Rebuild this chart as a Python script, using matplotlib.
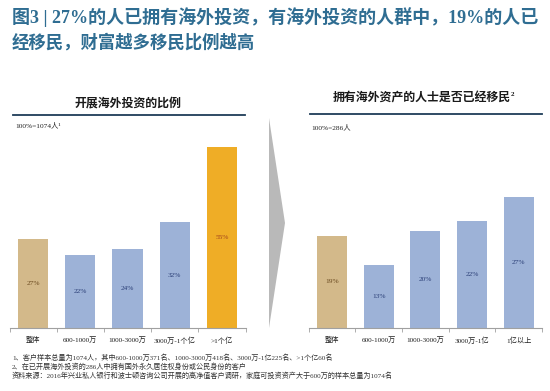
import matplotlib
matplotlib.use("Agg")
import matplotlib.pyplot as plt
from matplotlib.patches import Polygon
from matplotlib.lines import Line2D

# ---- data ----
left_categories = ["整体", "600-1000万", "1000-3000万", "3000万-1个亿", ">1个亿"]
left_values = [27, 22, 24, 32, 55]
right_categories = ["整体", "600-1000万", "1000-3000万", "3000万-1亿", "1亿以上"]
right_values = [19, 13, 20, 22, 27]

title_lines = ["图3 | 27%的人已拥有海外投资，有海外投资的人群中，19%的人已",
               "经移民，财富越多移民比例越高"]
left_title = "开展海外投资的比例"
right_title = "拥有海外资产的人士是否已经移民"
right_title_sup = "2"
left_note = "100%=1074人¹"
right_note = "100%=286人"
footnotes = [
    "1、客户样本总量为1074人，其中600-1000万371名、1000-3000万418名、3000万-1亿225名、>1个亿60名",
    "2、在已开展海外投资的286人中拥有国外永久居住权身份或公民身份的客户",
    "资料来源：2016年兴业私人银行和波士顿咨询公司开展的高净值客户调研，家庭可投资资产大于600万的样本总量为1074名",
]

TAN = "#D3B98A"
BLUE = "#9DB2D7"
ORANGE = "#EFAD26"
SERIF = ["Liberation Serif", "Noto Sans CJK SC"]
CJK = ["Noto Sans CJK SC", "DejaVu Sans"]

W, H = 550, 391
fig = plt.figure(figsize=(5.5, 3.91), dpi=100)
fig.patch.set_facecolor("white")


def fx(x):
    return x / W


def fy(y):
    return 1 - y / H


def make_axes(x0, x1, ybase, ytop):
    return fig.add_axes([fx(x0), fy(ybase), fx(x1) - fx(x0), (ybase - ytop) / H])


def draw_panel(ax, cats, vals, colors, lblcolors, ymax):
    x = list(range(len(cats)))
    ax.bar(x, vals, width=0.64, color=colors, edgecolor="none")
    for xi, v, lc in zip(x, vals, lblcolors):
        ax.text(xi, v / 2, f"{v}%", ha="center", va="center",
                fontsize=5.3, color=lc, family=SERIF)
    ax.set_xlim(-0.5, len(cats) - 0.5)
    ax.set_ylim(0, ymax)
    for s in ["top", "left", "right"]:
        ax.spines[s].set_visible(False)
    ax.spines["bottom"].set_color("#A0A0A0")
    ax.spines["bottom"].set_linewidth(0.8)
    ax.set_yticks([])
    ax.set_xticks(x)
    ax.set_xticklabels(cats, fontsize=5.2, family=SERIF, color="#222222")
    ax.tick_params(axis="x", which="major", length=0, pad=6)
    ax.set_xticks([i - 0.5 for i in range(len(cats) + 1)], minor=True)
    ax.tick_params(axis="x", which="minor", length=3, color="#A0A0A0", width=0.6)
    ax.patch.set_alpha(0)


# left panel
axL = make_axes(9.5, 245.5, 328, 138)
draw_panel(axL, left_categories, left_values,
           [TAN, BLUE, BLUE, BLUE, ORANGE],
           ["#6A4A20", "#2B3F77", "#2B3F77", "#2B3F77", "#A4471E"],
           190 / 3.3)

# right panel
axR = make_axes(308.6, 542, 328, 138)
draw_panel(axR, right_categories, right_values,
           [TAN, BLUE, BLUE, BLUE, BLUE],
           ["#6A4A20", "#2B3F77", "#2B3F77", "#2B3F77", "#2B3F77"],
           190 / 4.85)

# arrow chevron
fig.patches.append(Polygon([(fx(269), fy(118)), (fx(285), fy(223)), (fx(269), fy(328))],
                           closed=True, transform=fig.transFigure,
                           facecolor="#B9B9B9", edgecolor="none"))

# panel titles and rules
fig.text(fx(422), fy(98), right_title, ha="center", va="center",
         fontsize=8.6, fontweight="bold", family=CJK, color="#1a1a1a")
fig.text(fx(128), fy(103), left_title, ha="center", va="center",
         fontsize=8.6, fontweight="bold", family=CJK, color="#1a1a1a")
fig.text(fx(510.5), fy(95), right_title_sup, ha="left", va="center",
         fontsize=5, fontweight="bold", family=SERIF, color="#1a1a1a")
fig.lines.append(Line2D([fx(13), fx(245)], [fy(115), fy(115)], transform=fig.transFigure,
                        color="#1F3D58", linewidth=1.3))
fig.lines.append(Line2D([fx(310), fx(542)], [fy(114), fy(114)], transform=fig.transFigure,
                        color="#1F3D58", linewidth=1.3))
fig.text(fx(15), fy(125), left_note, ha="left", va="center",
         fontsize=5.3, family=SERIF, color="#222222")
fig.text(fx(311), fy(127), right_note, ha="left", va="center",
         fontsize=5.3, family=SERIF, color="#222222")

# main title
fig.text(fx(12), fy(17), title_lines[0], ha="left", va="center",
         fontsize=13.0, fontweight="bold", family=SERIF, color="#2F6D92")
fig.text(fx(12), fy(43), title_lines[1], ha="left", va="center",
         fontsize=12.5, fontweight="bold", family=SERIF, color="#2F6D92")

# footnotes
for i, t in enumerate(footnotes):
    fig.text(fx(12), fy(357 + 9 * i), t, ha="left", va="center",
             fontsize=5.15, family=SERIF, color="#333333")

fig.savefig("out.png", dpi=100, facecolor="white")
